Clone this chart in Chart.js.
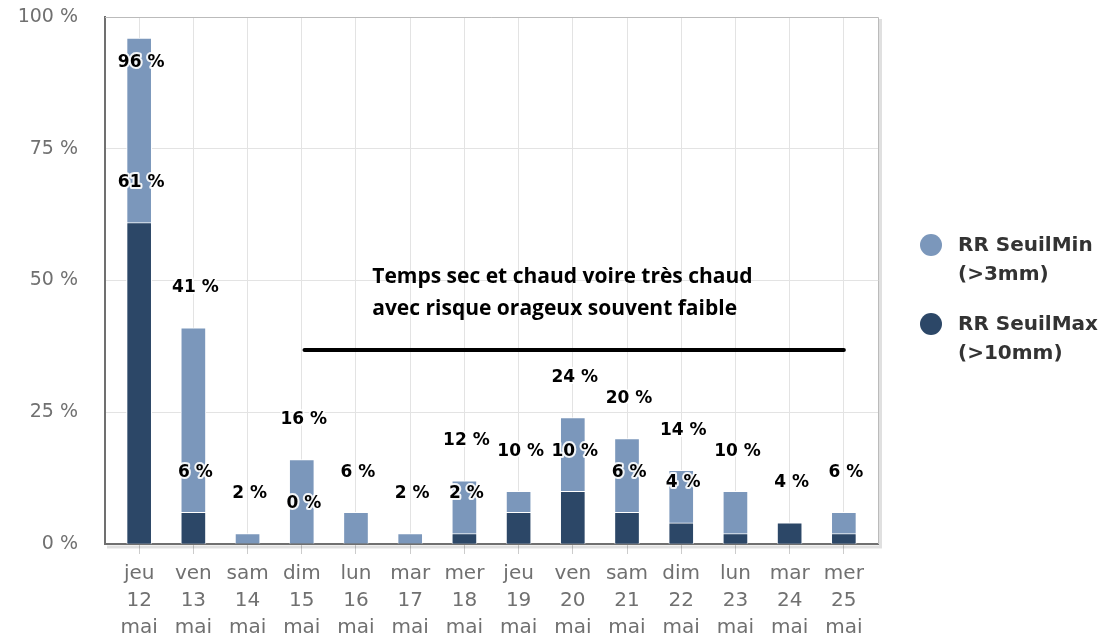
<!DOCTYPE html>
<html>
<head>
<meta charset="utf-8">
<script src="https://cdn.jsdelivr.net/npm/chart.js@4.4.1/dist/chart.umd.min.js"></script>
<style>
  html, body { margin: 0; padding: 0; background: #fff; }
  canvas { display: block; }
</style>
</head>
<body>
<canvas id="chart" width="1118" height="635"></canvas>
<script>
// jours (3 lignes par étiquette)
const days = ["jeu", "ven", "sam", "dim", "lun", "mar", "mer", "jeu", "ven", "sam", "dim", "lun", "mar", "mer"];
const dates = ["12", "13", "14", "15", "16", "17", "18", "19", "20", "21", "22", "23", "24", "25"];
const month = "mai";

// probabilités en %
const seuilMin = [96, 41, 2, 16, 6, 2, 12, 10, 24, 20, 14, 10, 4, 6];
const seuilMax = [61, 6, 0, 0, 0, 0, 2, 6, 10, 6, 4, 2, 4, 2];

// étiquettes affichées (les autres sont masquées comme sur l'original)
const showMinLabel = [true, true, true, true, true, true, true, true, true, true, true, true, false, true];
const showMaxLabel = [true, true, false, true, false, false, true, false, true, true, true, false, true, false];

const seriesNames = ["RR SeuilMin (>3mm)", "RR SeuilMax (>10mm)"];
const yTicks = [0, 25, 50, 75, 100];

const noteLines = ["Temps sec et chaud voire très chaud", "avec risque orageux souvent faible"];

const colorMin = "#7b97bb";
const colorMax = "#2c4767";

// cadre du graphique
const framePlugin = {
  id: "frame",
  beforeDatasetsDraw(chart) {
    const { ctx, chartArea: a } = chart;
    ctx.save();
    ctx.strokeStyle = "#bbbbbb";
    ctx.lineWidth = 1;
    ctx.beginPath();
    ctx.moveTo(a.left, a.top + 0.5);
    ctx.lineTo(a.right + 0.5, a.top + 0.5);
    ctx.lineTo(a.right + 0.5, a.bottom);
    ctx.stroke();
    // petite ombre à droite et en bas
    ctx.strokeStyle = "rgba(0,0,0,0.12)";
    ctx.lineWidth = 3;
    ctx.beginPath();
    ctx.moveTo(a.right + 2.5, a.top + 2);
    ctx.lineTo(a.right + 2.5, a.bottom + 3);
    ctx.lineTo(a.left + 2, a.bottom + 3);
    ctx.stroke();
    ctx.restore();
  }
};

// étiquettes de valeurs
const labelsPlugin = {
  id: "valueLabels",
  afterDatasetsDraw(chart) {
    const { ctx, chartArea: a } = chart;
    const shows = [showMinLabel, showMaxLabel];
    ctx.save();
    ctx.font = "bold 17px 'DejaVu Sans'";
    ctx.textAlign = "center";
    ctx.textBaseline = "middle";
    ctx.lineJoin = "round";
    chart.data.datasets.forEach((ds, d) => {
      const meta = chart.getDatasetMeta(d);
      meta.data.forEach((bar, i) => {
        if (!shows[d][i]) return;
        let y = bar.y - 40;
        if (y - 10 < a.top) y = bar.y + 24;
        const txt = ds.data[i].y + " %";
        ctx.strokeStyle = "rgba(255,255,255,0.9)";
        ctx.lineWidth = 4;
        ctx.strokeText(txt, bar.x + 2, y);
        ctx.fillStyle = "#000";
        ctx.fillText(txt, bar.x + 2, y);
      });
    });
    ctx.restore();
  }
};

// commentaire + trait
const notePlugin = {
  id: "note",
  afterDatasetsDraw(chart) {
    const { ctx, scales: { x, y } } = chart;
    ctx.save();
    ctx.strokeStyle = "#000";
    ctx.lineWidth = 4;
    ctx.lineCap = "round";
    ctx.beginPath();
    ctx.moveTo(x.getPixelForValue(3.05), y.getPixelForValue(36.8));
    ctx.lineTo(x.getPixelForValue(13), y.getPixelForValue(36.8));
    ctx.stroke();
    ctx.fillStyle = "#000";
    ctx.font = "bold 21px 'Open Sans'";
    ctx.textAlign = "left";
    ctx.textBaseline = "middle";
    ctx.fillText(noteLines[0], x.getPixelForValue(4.3), y.getPixelForValue(50.7));
    ctx.fillText(noteLines[1], x.getPixelForValue(4.3), y.getPixelForValue(44.6));
    ctx.restore();
  }
};

// légende à droite
const legendPlugin = {
  id: "sideLegend",
  afterDraw(chart) {
    const { ctx, chartArea: a } = chart;
    ctx.save();
    ctx.textAlign = "left";
    ctx.textBaseline = "middle";
    ctx.font = "bold 20px 'DejaVu Sans'";
    chart.data.datasets.forEach((ds, d) => {
      const top = 246 + d * 79;
      ctx.fillStyle = ds.backgroundColor;
      ctx.beginPath();
      ctx.arc(a.right + 53, top - 1, 11, 0, Math.PI * 2);
      ctx.fill();
      const k = ds.label.indexOf(" (");
      ctx.fillStyle = "#333";
      ctx.fillText(ds.label.slice(0, k), a.right + 80, top);
      ctx.fillText(ds.label.slice(k + 1), a.right + 80, top + 29);
    });
    ctx.restore();
  }
};

new Chart(document.getElementById("chart"), {
  type: "bar",
  data: {
    datasets: [
      {
        label: seriesNames[0],
        data: seuilMin.map((v, i) => ({ x: i, y: v })),
        backgroundColor: colorMin,
        borderColor: "#fff",
        borderWidth: 1,
        grouped: false,
        order: 2
      },
      {
        label: seriesNames[1],
        data: seuilMax.map((v, i) => ({ x: i, y: v })),
        backgroundColor: colorMax,
        borderColor: "#fff",
        borderWidth: 1,
        grouped: false,
        order: 1
      }
    ]
  },
  options: {
    responsive: false,
    animation: false,
    devicePixelRatio: 1,
    barThickness: 25,
    layout: { padding: { top: 17, right: 240, left: 0, bottom: 0 } },
    plugins: { legend: { display: false }, tooltip: { enabled: false } },
    scales: {
      x: {
        type: "linear",
        min: -0.63,
        max: 13.63,
        offset: false,
        afterBuildTicks: (axis) => {
          axis.ticks = days.map((_, i) => ({ value: i }));
        },
        afterFit: (axis) => {
          axis.height = 91;
          axis.paddingLeft = 0;
          axis.paddingRight = 0;
          axis.paddingTop = 0;
          axis.paddingBottom = 0;
        },
        ticks: {
          autoSkip: false,
          maxRotation: 0,
          padding: 6,
          color: "#707070",
          font: { family: "'DejaVu Sans'", size: 20, lineHeight: "27px" },
          callback: (v) => [days[v], dates[v], month]
        },
        grid: { offset: false, color: "#e3e3e3", tickColor: "#cccccc", tickLength: 10 },
        border: { color: "#707070", width: 2 }
      },
      y: {
        min: 0,
        max: 100,
        afterBuildTicks: (axis) => {
          axis.ticks = yTicks.map((v) => ({ value: v }));
        },
        afterFit: (axis) => {
          axis.width = 105;
          axis.paddingTop = 0;
          axis.paddingBottom = 0;
        },
        ticks: {
          padding: 27,
          color: "#707070",
          font: { family: "'DejaVu Sans'", size: 19 },
          callback: (v) => v + " %"
        },
        grid: { color: "#e3e3e3", drawTicks: false },
        border: { color: "#707070", width: 2 }
      }
    }
  },
  plugins: [framePlugin, labelsPlugin, notePlugin, legendPlugin]
});
</script>
</body>
</html>
